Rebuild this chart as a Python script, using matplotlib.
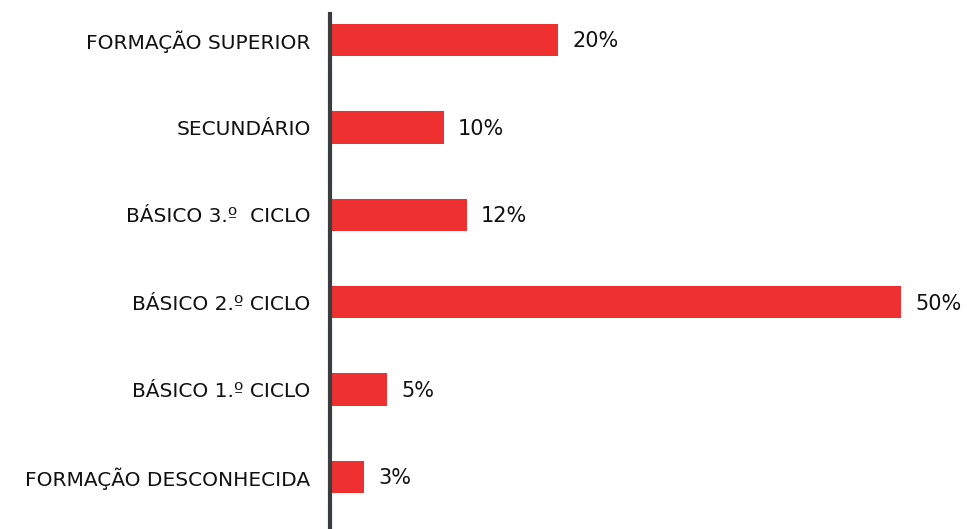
import matplotlib
matplotlib.use("Agg")
import matplotlib.pyplot as plt

categories = ["FORMAÇÃO DESCONHECIDA", "BÁSICO 1.º CICLO", "BÁSICO 2.º CICLO",
              "BÁSICO 3.º  CICLO", "SECUNDÁRIO", "FORMAÇÃO SUPERIOR"]
values = [3, 5, 50, 12, 10, 20]
value_labels = ["3%", "5%", "50%", "12%", "10%", "20%"]

plt.rcParams['font.family'] = ['DejaVu Sans']

W, H = 967, 529
fig = plt.figure(figsize=(W/100, H/100), dpi=100)
left, right, top, bottom = 330, 901, 14, 529
ax = fig.add_axes([left/W, 1-bottom/H, (right-left)/W, (bottom-top)/H])

ypos = list(range(len(categories)))
ax.barh(ypos, values, height=0.37, color="#EE3130", zorder=2)
ax.set_xlim(0, 50)
ax.set_ylim(-0.595, 5.297)

for y, v, lab in zip(ypos, values, value_labels):
    ax.annotate(lab, (v, y), xytext=(10, -1), textcoords="offset points",
                va="center", ha="left", fontsize=15, color="#111111",
                annotation_clip=False)

ax.set_yticks(ypos)
ax.set_yticklabels(categories, fontsize=14.5, color="#111111")
ax.tick_params(axis="y", length=0, pad=14)
ax.set_xticks([])
for s in ["top", "right", "bottom"]:
    ax.spines[s].set_visible(False)
ax.spines["left"].set_color("#3a3d40")
ax.spines["left"].set_linewidth(3)
ax.spines["left"].set_zorder(3)

fig.savefig("out.png", dpi=100)
